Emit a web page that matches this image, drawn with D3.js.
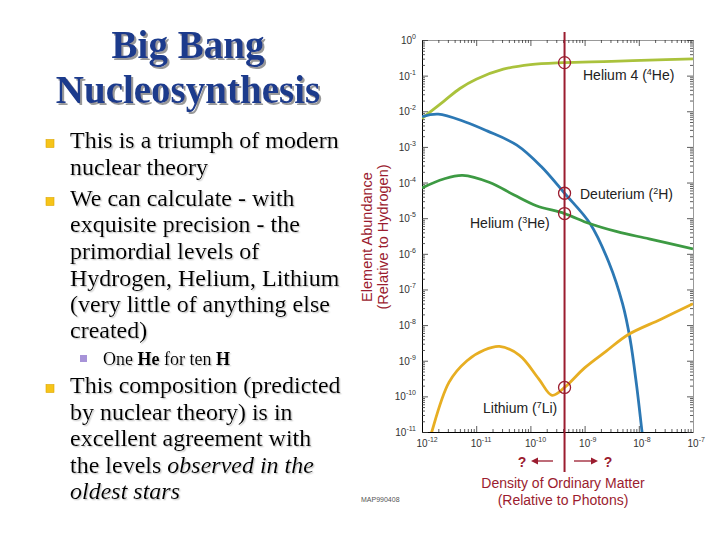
<!DOCTYPE html>
<html>
<head>
<meta charset="utf-8">
<script src="https://cdn.jsdelivr.net/npm/d3@7"></script>
<style>
  body { margin: 0; background: #fff; }
  svg { display: block; }
</style>
</head>
<body>
<svg id="slide" width="720" height="540"></svg>
<script>
// abundance curves, as [log10(eta), log10(abundance)]
var helium4 = [[-12, -2.2], [-11.6, -1.72], [-11.3, -1.36], [-11, -1.1], [-10.5, -0.82], [-10, -0.69], [-9.4, -0.635], [-8.5, -0.6], [-7.5, -0.55], [-7, -0.53]];
var deuterium = [[-12, -2.15], [-11.7, -2.08], [-11.2, -2.3], [-10.8, -2.55], [-10.25, -2.95], [-9.8, -3.55], [-9.37, -4.3], [-8.9, -5.15], [-8.55, -6.25], [-8.3, -7.4], [-8.16, -8.4], [-8.04, -9.7], [-7.94, -11], [-7.9, -11.5]];
var helium3 = [[-12, -4.15], [-11.6, -3.9], [-11.25, -3.8], [-10.75, -4.0], [-10.3, -4.35], [-9.89, -4.65], [-9.37, -4.87], [-8.91, -5.15], [-8.4, -5.38], [-7.81, -5.58], [-7, -5.86]];
var lithium = [[-11.9, -11.5], [-11.82, -11], [-11.5, -9.6], [-11.17, -9.0], [-10.85, -8.7], [-10.57, -8.6], [-10.2, -8.85], [-9.85, -9.5], [-9.6, -9.97], [-9.37, -9.75], [-9.0, -9.2], [-8.6, -8.73], [-8.2, -8.27], [-7.6, -7.84], [-7, -7.4]];

var xExponents = [-12, -11, -10, -9, -8, -7];
var yExponents = [0, -1, -2, -3, -4, -5, -6, -7, -8, -9, -10, -11];

// measured density and where it meets each curve
var markerEta = -9.37;
var markerHits = [-0.635, -4.3, -4.87, -9.75];

var svg = d3.select("#slide");

var defs = svg.append("defs");
defs.append("filter").attr("id", "titleShadow").attr("x", "-10%").attr("y", "-10%").attr("width", "130%").attr("height", "140%")
  .append("feDropShadow").attr("dx", 2).attr("dy", 2).attr("stdDeviation", 0.6).attr("flood-color", "#808080").attr("flood-opacity", 0.8);
defs.append("filter").attr("id", "textShadow").attr("x", "-5%").attr("y", "-10%").attr("width", "115%").attr("height", "140%")
  .append("feDropShadow").attr("dx", 1.3).attr("dy", 1.3).attr("stdDeviation", 0.5).attr("flood-color", "#aaaaaa").attr("flood-opacity", 0.6);

// ---------- left side: slide text ----------
var left = svg.append("g");

left.selectAll(".title").data(["Big Bang", "Nucleosynthesis"]).enter().append("text")
  .attr("class", "title")
  .attr("x", 188)
  .attr("y", function(d, i) { return 58 + i * 45; })
  .attr("text-anchor", "middle")
  .attr("fill", "#1b3a8c")
  .attr("filter", "url(#titleShadow)")
  .style("font", "bold 39px 'Liberation Serif', 'Times New Roman', serif")
  .text(function(d) { return d; });

// each line: baseline, bullet?, pieces [text, style]
var bodyLines = [
  [148, 1, [["This is a triumph of modern", ""]]],
  [175, 0, [["nuclear theory", ""]]],
  [206, 1, [["We can calculate - with", ""]]],
  [232, 0, [["exquisite precision - the", ""]]],
  [259, 0, [["primordial levels of", ""]]],
  [286, 0, [["Hydrogen, Helium, Lithium", ""]]],
  [312, 0, [["(very little of anything else", ""]]],
  [338, 0, [["created)", ""]]],
  [393, 1, [["This composition (predicted", ""]]],
  [420, 0, [["by nuclear theory) is in", ""]]],
  [446, 0, [["excellent agreement with", ""]]],
  [473, 0, [["the levels ", ""], ["observed in the", "i"]]],
  [499, 0, [["oldest stars", "i"]]]
];

function bodyText(x, yy, pieces, size) {
  var t = left.append("text").attr("x", x).attr("y", yy).attr("fill", "#000")
    .attr("filter", "url(#textShadow)")
    .style("font-family", "'Liberation Serif', 'Times New Roman', serif")
    .style("font-size", size + "px");
  pieces.forEach(function(p) {
    t.append("tspan").text(p[0])
      .style("font-style", p[1] == "i" ? "italic" : "normal")
      .style("font-weight", p[1] == "b" ? "bold" : "normal");
  });
}

bodyLines.forEach(function(l) {
  if (l[1]) {
    left.append("rect").attr("x", 46).attr("y", l[0] - 8.5).attr("width", 8).attr("height", 8)
      .attr("fill", "#f6c419").attr("stroke", "#dca600").attr("stroke-width", 0.6);
  }
  bodyText(70, l[0], l[2], 24);
});

left.append("rect").attr("x", 80).attr("y", 355).attr("width", 7).attr("height", 7).attr("fill", "#a793d8");
bodyText(103, 365, [["One ", ""], ["He", "b"], [" for ten ", ""], ["H", "b"]], 18);

// ---------- right side: abundance chart ----------
var x = d3.scaleLog().domain([1e-12, 1e-7]).range([422, 693]);
var y = d3.scaleLog().domain([1e-11, 1]).range([432, 40]);
var dark = "#9b1c2f";
var sans = "'Liberation Sans', Arial, Helvetica, sans-serif";

var chart = svg.append("g");

function isMajor(d) {
  var l = Math.log10(d);
  return Math.abs(l - Math.round(l)) < 1e-6;
}

function addAxis(gen, tx, ty, attr, sign, colr) {
  var a = chart.append("g").attr("transform", "translate(" + tx + "," + ty + ")")
    .call(gen.tickSizeInner(-3).tickSizeOuter(0).tickFormat(""));
  a.selectAll(".tick line").attr(attr, function(d) { return sign * (isMajor(d) ? 6 : 3); })
    .attr("stroke", "#333").attr("stroke-width", 0.8);
  a.select(".domain").attr("stroke", colr);
  return a;
}
addAxis(d3.axisBottom(x).ticks(10), 0, 432, "y2", -1, "#000");
addAxis(d3.axisTop(x).ticks(10), 0, 40, "y2", 1, "#999");
addAxis(d3.axisLeft(y).ticks(20), 422, 0, "x2", 1, "#000");
addAxis(d3.axisRight(y).ticks(20), 693, 0, "x2", -1, "#999");

// tick labels as 10 with a superscript exponent
chart.selectAll(".ylab").data(yExponents).enter().append("text")
  .attr("class", "ylab")
  .attr("x", 416)
  .attr("y", function(d) { return y(Math.pow(10, d)) + 4; })
  .attr("text-anchor", "end")
  .attr("fill", "#333")
  .style("font", "10px " + sans)
  .each(function(d) {
    var t = d3.select(this);
    t.append("tspan").text("10");
    t.append("tspan").attr("dy", -5).style("font-size", "7px").text(d === 0 ? "0" : "-" + (-d));
  });

chart.selectAll(".xlab").data(xExponents).enter().append("text")
  .attr("class", "xlab")
  .attr("x", function(d) { return x(Math.pow(10, d)) - 5.5; })
  .attr("y", 447)
  .attr("fill", "#333")
  .style("font", "10px " + sans)
  .each(function(d) {
    var t = d3.select(this);
    t.append("tspan").text("10");
    t.append("tspan").attr("dy", -5).style("font-size", "7px").text("-" + (-d));
  });

// curves
chart.append("clipPath").attr("id", "plotclip").append("rect")
  .attr("x", 422).attr("y", 40).attr("width", 271).attr("height", 392);

var line = d3.line()
  .x(function(d) { return x(Math.pow(10, d[0])); })
  .y(function(d) { return y(Math.pow(10, d[1])); })
  .curve(d3.curveCatmullRom.alpha(0.5));

var series = [
  [helium4, "#aac23c"],
  [deuterium, "#2c78b4"],
  [helium3, "#3d9a43"],
  [lithium, "#e7ae22"]
];
chart.append("g").attr("clip-path", "url(#plotclip)")
  .selectAll("path").data(series).enter().append("path")
  .attr("d", function(d) { return line(d[0]); })
  .attr("fill", "none")
  .attr("stroke", function(d) { return d[1]; })
  .attr("stroke-width", 2.8)
  .attr("stroke-linejoin", "round");

// measured density line and its crossings
var mx = x(Math.pow(10, markerEta));
chart.append("line").attr("x1", mx).attr("x2", mx).attr("y1", 32).attr("y2", 472)
  .attr("stroke", dark).attr("stroke-width", 2);
chart.selectAll(".hit").data(markerHits).enter().append("circle")
  .attr("class", "hit")
  .attr("cx", mx)
  .attr("cy", function(d) { return y(Math.pow(10, d)); })
  .attr("r", 6)
  .attr("fill", "none")
  .attr("stroke", dark)
  .attr("stroke-width", 1.3);

// curve names
function curveName(xx, yy, a, sup, b) {
  var t = chart.append("text").attr("x", xx).attr("y", yy).attr("fill", "#222")
    .style("font", "14px " + sans);
  t.append("tspan").text(a);
  t.append("tspan").attr("dy", -5).style("font-size", "9px").text(sup);
  t.append("tspan").attr("dy", 5).text(b);
}
curveName(583, 80, "Helium 4 (", "4", "He)");
curveName(580, 199, "Deuterium (", "2", "H)");
curveName(470, 228, "Helium (", "3", "He)");
curveName(483, 413, "Lithium (", "7", "Li)");

// axis titles
chart.append("text").attr("transform", "translate(372,237) rotate(-90)")
  .attr("text-anchor", "middle").attr("fill", dark)
  .style("font", "14.5px " + sans).text("Element Abundance");
chart.append("text").attr("transform", "translate(388,237) rotate(-90)")
  .attr("text-anchor", "middle").attr("fill", dark)
  .style("font", "14.5px " + sans).text("(Relative to Hydrogen)");

chart.append("text").attr("x", 563).attr("y", 488).attr("text-anchor", "middle").attr("fill", dark)
  .style("font", "14px " + sans).text("Density of Ordinary Matter");
chart.append("text").attr("x", 563).attr("y", 505).attr("text-anchor", "middle").attr("fill", dark)
  .style("font", "14px " + sans).text("(Relative to Photons)");

// question arrows
chart.append("text").attr("x", 522).attr("y", 467).attr("text-anchor", "middle").attr("fill", dark)
  .style("font", "bold 14px " + sans).text("?");
chart.append("text").attr("x", 608).attr("y", 467).attr("text-anchor", "middle").attr("fill", dark)
  .style("font", "bold 14px " + sans).text("?");
[[553, 531], [574, 598]].forEach(function(a) {
  var dir = a[1] > a[0] ? 1 : -1;
  chart.append("line").attr("x1", a[0]).attr("x2", a[1] - dir * 5).attr("y1", 461).attr("y2", 461)
    .attr("stroke", dark).attr("stroke-width", 1.3);
  chart.append("path")
    .attr("d", "M" + a[1] + ",461L" + (a[1] - dir * 7) + ",457.5L" + (a[1] - dir * 7) + ",464.5Z")
    .attr("fill", dark);
});

chart.append("text").attr("x", 361).attr("y", 502).attr("fill", "#555")
  .style("font", "7px " + sans).text("MAP990408");
</script>
</body>
</html>
